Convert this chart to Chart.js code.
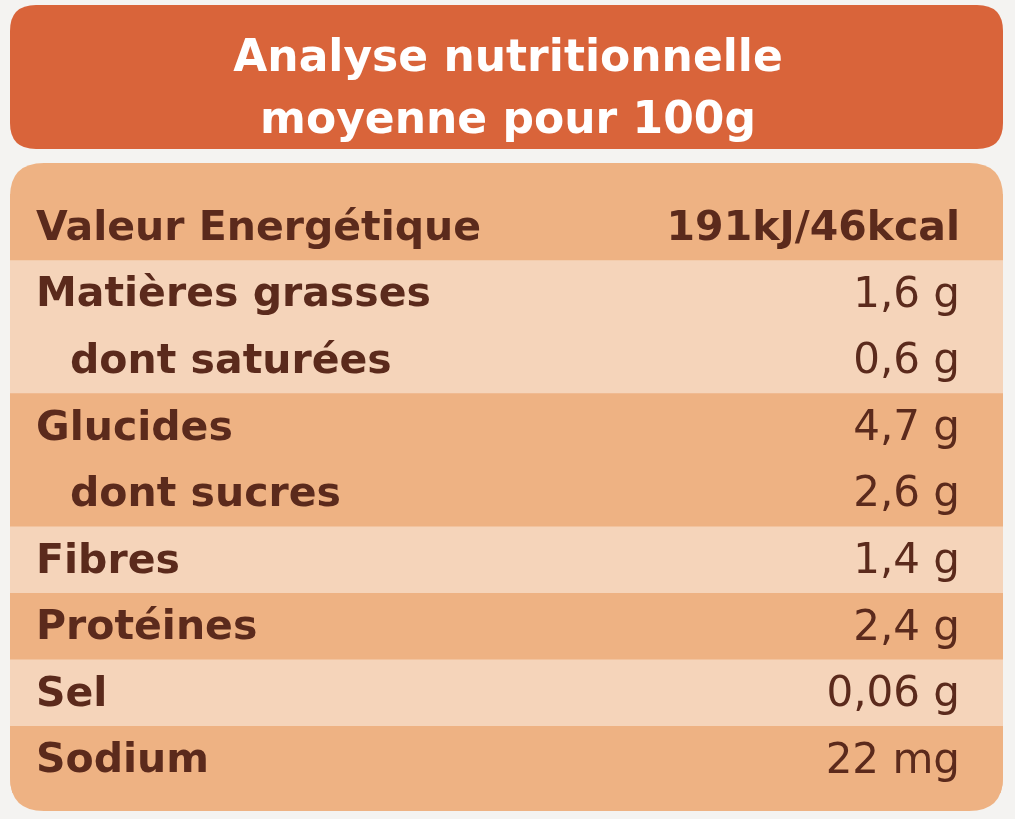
<!DOCTYPE html>
<html><head><meta charset="utf-8">
<script src="https://cdn.jsdelivr.net/npm/chart.js@4/dist/chart.umd.min.js"></script>
<style>html,body{margin:0;padding:0;background:#f4f3f1;}#c{display:block;}</style>
</head><body>
<canvas id="c" width="1015" height="819"></canvas>
<script>
const titleLines = ["Analyse nutritionnelle", "moyenne pour 100g"];
const categories = ["Valeur Energétique","Matières grasses","dont saturées","Glucides","dont sucres","Fibres","Protéines","Sel","Sodium"];
const values = ["191kJ/46kcal","1,6 g","0,6 g","4,7 g","2,6 g","1,4 g","2,4 g","0,06 g","22 mg"];
const indent = [false,false,true,false,true,false,false,false,false];
const shade = ["dark","light","light","dark","dark","light","dark","light","dark"];
const colors = {dark:"#eeb283", light:"#f5d4ba"};

function rr(ctx,x,y,w,h,r){ctx.beginPath();ctx.moveTo(x+r,y);ctx.lineTo(x+w-r,y);ctx.quadraticCurveTo(x+w,y,x+w,y+r);ctx.lineTo(x+w,y+h-r);ctx.quadraticCurveTo(x+w,y+h,x+w-r,y+h);ctx.lineTo(x+r,y+h);ctx.quadraticCurveTo(x,y+h,x,y+h-r);ctx.lineTo(x,y+r);ctx.quadraticCurveTo(x,y,x+r,y);ctx.closePath();}

const deco = {
  id:"deco",
  beforeDraw(chart){
    const ctx=chart.ctx;ctx.save();
    ctx.fillStyle="#d9643a";rr(ctx,10,5,993,144,26);ctx.fill();
    ctx.fillStyle="#fff";ctx.font="bold 44px 'DejaVu Sans', sans-serif";ctx.textAlign="center";ctx.textBaseline="middle";
    ctx.fillText(titleLines[0],508,60);ctx.fillText(titleLines[1],508,122);
    ctx.fillStyle=colors.dark;rr(ctx,10,163,993,648,34);ctx.fill();
    ctx.restore();
    ctx.save();rr(ctx,10,163,993,648,34);ctx.clip();
  },
  afterDatasetsDraw(chart){
    chart.ctx.restore();
    const ctx=chart.ctx, y=chart.scales.y;ctx.save();ctx.fillStyle="#5b2a1c";ctx.textBaseline="middle";
    categories.forEach((c,i)=>{
      const py=y.getPixelForValue(i)+2;
      ctx.font="bold 41px 'DejaVu Sans', sans-serif";ctx.textAlign="left";
      ctx.fillText(c, indent[i]?70:36, py);
      ctx.font=(i===0?"bold 41px":"42px")+" 'DejaVu Sans', sans-serif";ctx.textAlign="right";
      ctx.fillText(values[i],960,py);
    });
    ctx.restore();
  }
};

new Chart(document.getElementById("c"),{
  type:"bar",
  data:{labels:categories,datasets:[{data:categories.map(()=>[0,1]),backgroundColor:shade.map(s=>colors[s]),borderWidth:0,categoryPercentage:1,barPercentage:1}]},
  options:{indexAxis:"y",responsive:false,animation:false,
    layout:{padding:{left:10,right:12,top:194,bottom:26}},
    plugins:{legend:{display:false},tooltip:{enabled:false}},
    scales:{x:{display:false,min:0,max:1},y:{display:false}}},
  plugins:[deco]
});
</script></body></html>
